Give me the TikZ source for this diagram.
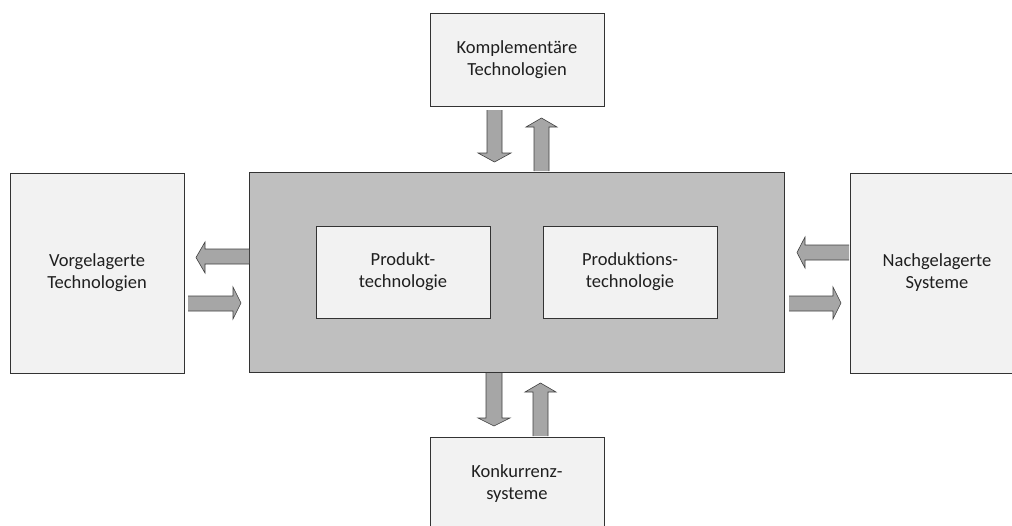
\documentclass[tikz,border=0pt]{standalone}
\usepackage{fontspec}
\setmainfont{Carlito}
\definecolor{boxfill}{HTML}{F2F2F2}
\definecolor{midfill}{HTML}{BFBFBF}
\definecolor{arrfill}{HTML}{A6A6A6}
\begin{document}
\begin{tikzpicture}[x=1pt,y=-1pt,
  box/.style={draw=black!80,line width=0.8pt,fill=boxfill,align=center,inner sep=0pt,
    font=\fontsize{18.5}{22}\selectfont,text=black!88},
  blk/.style={fill=arrfill,draw=black!75,line width=0.6pt,line join=miter}]
\useasboundingbox (0,0) rectangle (1012,525);
\clip (0,0) rectangle (1012,525);
% central box
\node[box,fill=midfill,minimum width=535pt,minimum height=200pt] (core) at (516.5,272.5) {};
\node[box,minimum width=174pt,minimum height=92pt] (prod) at (403,272) {Produkt-\\technologie};
\node[box,minimum width=174pt,minimum height=92pt] (prodn) at (630,272) {Produktions-\\technologie};
% outer boxes
\node[box,minimum width=174pt,minimum height=93pt] (komp) at (517,60) {Komplementäre\\Technologien};
\node[box,minimum width=174pt,minimum height=200pt] (vor) at (97,273) {Vorgelagerte\\Technologien};
\node[box,minimum width=174pt,minimum height=200pt] (nach) at (937,273) {Nachgelagerte\\Systeme};
\node[box,minimum width=174pt,minimum height=93pt] (konk) at (517,484) {Konkurrenz-\\systeme};
% top arrows
\path[blk] (487,110)--(487,153)--(478,153)--(494.5,162)--(511,153)--(502,153)--(502,110);
\path[blk] (534,171)--(534,127)--(526,127)--(541.5,118)--(557,127)--(549,127)--(549,171);
% bottom arrows
\path[blk] (486,373)--(486,418)--(478,418)--(494,426)--(510,418)--(502,418)--(502,373);
\path[blk] (533,436)--(533,392)--(525,392)--(540.5,383)--(556,392)--(548,392)--(548,436);
% left arrows
\path[blk] (249,249)--(205,249)--(205,242)--(196,257.5)--(205,273)--(205,264)--(249,264);
\path[blk] (188,296)--(233,296)--(233,287)--(241,303)--(233,319)--(233,311)--(188,311);
% right arrows
\path[blk] (849,245)--(805,245)--(805,237)--(797,252.5)--(805,268)--(805,260)--(849,260);
\path[blk] (789,296)--(833,296)--(833,287)--(841,303)--(833,319)--(833,311)--(789,311);
\end{tikzpicture}
\end{document}
